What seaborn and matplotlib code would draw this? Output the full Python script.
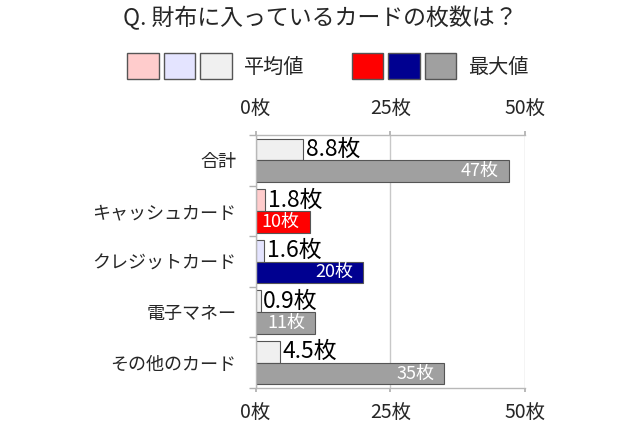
import matplotlib
matplotlib.use("Agg")
import matplotlib.pyplot as plt
from matplotlib.patches import Patch
from matplotlib.legend_handler import HandlerTuple
import seaborn as sns
import pandas as pd
import numpy as np

categories = ["合計", "キャッシュカード", "クレジットカード", "電子マネー", "その他のカード"]
avg_values = [8.8, 1.8, 1.6, 0.9, 4.5]
max_values = [47, 10, 20, 11, 35]
avg_labels = ["8.8枚", "1.8枚", "1.6枚", "0.9枚", "4.5枚"]
max_labels = ["47枚", "10枚", "20枚", "11枚", "35枚"]
avg_colors = ["#F0F0F0", "#FFCCCC", "#E4E4FF", "#F0F0F0", "#F0F0F0"]
max_colors = ["#A0A0A0", "#FF0000", "#000090", "#A0A0A0", "#A0A0A0"]
series = ["平均値", "最大値"]
xticks = [0, 25, 50]
xtick_labels = ["0枚", "25枚", "50枚"]
title = "Q. 財布に入っているカードの枚数は？"

sns.set_theme(style="white")
plt.rcParams["font.family"] = ["Noto Sans CJK JP", "DejaVu Sans"]

df = pd.DataFrame({
    "category": categories * 2,
    "series": [series[0]] * len(categories) + [series[1]] * len(categories),
    "value": avg_values + max_values,
})

fig = plt.figure(figsize=(6.4, 4.26), dpi=100)
ax = fig.add_axes([0.3995, 0.0892, 0.4208, 0.5938])

edge = "#555555"
sns.barplot(data=df, y="category", x="value", hue="series", orient="h",
            order=categories, hue_order=series, width=0.86, dodge=True,
            ax=ax, legend=False, saturation=1, edgecolor=edge, linewidth=0.8)

for cont, cols in zip(ax.containers, [avg_colors, max_colors]):
    for patch, c in zip(cont.patches, cols):
        patch.set_facecolor(c)
        patch.set_edgecolor(edge)

# labels
ax.bar_label(ax.containers[0], labels=avg_labels, padding=2, fontsize=16.5, color="black")
max_texts = ax.bar_label(ax.containers[1], labels=max_labels, label_type="edge", padding=-7,
                         fontsize=13, color="white")
for t in max_texts:
    t.set_ha("right")

ax.set_xlim(0, 50)
ax.set_ylim(len(categories) - 0.5, -0.5)
ax.set_xticks(xticks)
ax.set_xticklabels(xtick_labels)
ax.tick_params(axis="x", which="both", top=True, bottom=True, labeltop=True,
               labelbottom=True, labelsize=14, length=3, color="#B0B0B0", pad=8)
ax.tick_params(axis="y", which="major", length=0, labelsize=13, pad=14)
ax.set_yticks(np.arange(len(categories) + 1) - 0.5, minor=True)
ax.tick_params(axis="y", which="minor", length=5, color="#B0B0B0", left=True)
ax.grid(axis="x", color="#C8C8C8", linewidth=1)
ax.set_axisbelow(True)
for s in ax.spines.values():
    s.set_color("#B8B8B8")
    s.set_linewidth(1)
ax.spines["right"].set_visible(False)
ax.set_xlabel("")
ax.set_ylabel("")

fig.text(0.5, 1 - 18 / 426, title, ha="center", va="center", fontsize=16.5)

avg_handles = tuple(Patch(facecolor=c, edgecolor=edge, linewidth=1) for c in ["#FFCCCC", "#E4E4FF", "#F0F0F0"])
max_handles = tuple(Patch(facecolor=c, edgecolor=edge, linewidth=1) for c in ["#FF0000", "#000090", "#A0A0A0"])
fig.legend([avg_handles, max_handles], series,
           handler_map={tuple: HandlerTuple(ndivide=None, pad=0.25)},
           loc="center", bbox_to_anchor=(328 / 640, 1 - 66 / 426), ncol=2,
           frameon=False, fontsize=14.5, handlelength=5.2, handleheight=1.6,
           handletextpad=0.6, columnspacing=2.35, borderpad=0)

fig.savefig("out.png", dpi=100)
